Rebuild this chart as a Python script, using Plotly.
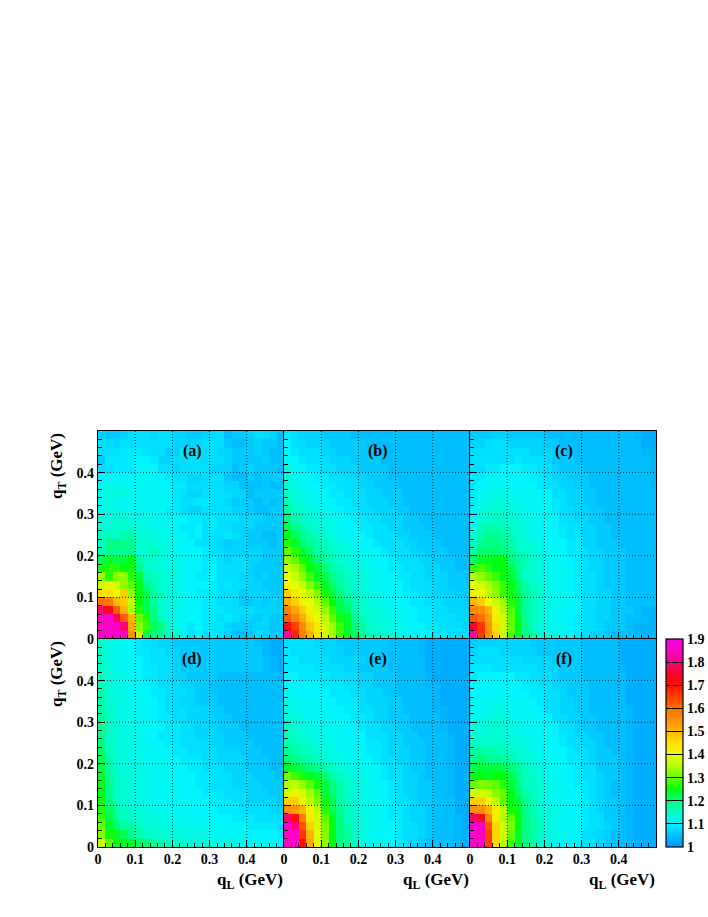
import plotly.graph_objects as go

# Values are (ratio - 1) x 100, rows listed from the top of the panel (q_T high) to the bottom.
panel_a = [
[7,6,6,7,8,8,8,7,8,8,7,7,6,6,7,8,8,5,6,6,7,8,8,7,5],
[8,8,7,8,8,8,8,8,8,8,7,7,7,7,8,8,8,6,5,5,6,7,6,6,5],
[8,8,8,9,9,9,8,8,8,6,7,8,8,8,8,8,7,7,6,6,6,7,6,5,5],
[6,9,9,9,9,10,10,9,7,7,8,8,8,8,8,8,8,7,6,6,6,6,7,5,5],
[8,8,9,9,9,10,11,10,8,8,7,8,8,8,8,7,7,7,5,6,7,6,6,6,5],
[10,10,10,10,10,11,11,10,10,9,8,8,7,7,8,8,8,6,5,5,6,5,6,6,6],
[11,12,12,12,11,11,11,11,11,10,9,9,8,8,8,8,8,7,7,5,5,5,6,5,5],
[12,13,13,13,12,11,11,11,10,10,9,8,7,7,8,8,8,8,7,7,5,6,6,6,6],
[11,12,12,11,11,11,11,11,11,10,9,8,8,9,9,8,8,7,6,6,6,5,6,5,6],
[12,13,12,12,11,11,11,11,10,9,9,8,7,7,8,8,8,8,7,7,6,5,5,6,6],
[13,14,14,14,13,12,12,12,11,11,10,10,9,9,8,9,8,8,8,7,7,7,6,6,6],
[14,14,15,14,15,13,13,12,11,10,10,9,9,10,8,9,8,8,7,7,7,6,6,6,6],
[15,16,15,17,17,14,13,13,12,12,11,10,9,10,8,8,8,9,8,7,6,6,5,5,6],
[15,20,20,19,19,15,15,14,13,12,11,10,10,8,8,8,7,6,7,7,6,6,6,5,6],
[17,19,19,19,19,14,14,16,13,13,11,11,10,10,9,8,8,7,7,7,7,7,6,6,6],
[22,24,22,23,25,17,15,14,13,12,12,11,10,10,9,9,8,7,8,8,7,7,6,6,6],
[26,27,27,25,26,19,15,14,13,12,13,11,10,10,9,10,8,8,8,8,7,6,6,6,6],
[33,27,33,33,27,23,16,16,15,13,13,11,10,9,9,10,8,8,8,7,7,6,7,6,6],
[37,42,38,33,30,25,20,17,14,13,12,11,10,10,10,9,8,9,8,8,7,7,6,6,6],
[45,45,40,47,33,25,22,18,16,13,13,11,10,9,9,9,8,8,8,6,7,7,7,6,6],
[60,58,50,47,37,25,22,18,14,13,13,11,10,10,9,9,8,8,8,6,6,7,6,7,6],
[78,72,62,50,35,27,22,20,14,12,12,11,11,10,9,9,9,8,8,8,8,7,7,7,7],
[85,85,78,62,50,30,27,20,16,13,12,11,10,10,9,9,8,9,8,7,7,6,7,6,6],
[85,85,85,80,52,32,28,22,20,15,13,11,9,10,9,8,9,7,6,6,6,7,7,6,6],
[85,85,85,85,55,37,22,20,18,15,15,10,8,10,8,9,8,7,5,5,6,8,7,6,6],
]
panel_b = [
[9,8,7,7,7,6,6,6,6,5,5,5,5,5,5,5,5,5,5,5,5,5,5,5,5],
[10,8,8,7,7,7,6,6,6,6,6,5,5,5,5,5,5,5,5,5,5,5,5,5,5],
[11,9,8,8,8,7,7,6,6,6,6,6,5,5,5,5,5,5,5,5,5,5,5,5,5],
[11,10,9,8,8,8,7,7,7,6,6,6,6,5,5,5,5,5,5,5,5,5,5,5,5],
[12,11,10,9,9,8,8,7,7,7,6,6,6,6,5,5,5,5,5,5,5,5,5,5,5],
[13,11,11,10,9,9,8,8,8,7,7,6,6,6,5,5,5,5,5,5,5,5,5,5,5],
[14,12,11,11,10,9,9,8,8,8,7,7,6,6,6,5,5,5,5,5,5,5,5,5,5],
[15,13,12,11,11,10,9,9,8,8,8,7,7,6,6,6,5,5,5,5,5,5,5,5,5],
[16,14,13,12,11,11,10,9,9,8,8,7,7,7,6,6,5,5,5,5,5,5,5,5,5],
[18,15,14,13,12,11,11,10,9,9,8,8,7,7,7,6,6,5,5,5,5,5,5,5,5],
[20,17,15,14,13,12,11,11,10,9,9,8,8,7,7,7,6,6,5,5,5,5,5,5,5],
[23,19,17,15,14,13,12,11,10,10,9,9,8,8,7,7,6,6,6,5,5,5,5,5,5],
[25,22,19,17,15,14,13,12,11,10,10,9,8,8,8,7,7,6,6,6,5,5,5,5,5],
[27,24,21,19,17,15,14,13,12,11,10,10,9,8,8,8,7,7,6,6,6,5,5,5,5],
[30,27,24,21,18,16,15,14,13,12,11,10,10,9,8,8,8,7,7,6,6,6,5,5,5],
[33,30,26,24,20,18,16,14,13,12,12,11,10,10,9,8,8,8,7,7,6,6,6,5,5],
[37,34,30,25,23,20,17,16,14,13,12,11,11,10,9,9,8,8,8,7,7,6,6,5,5],
[40,37,33,28,24,22,19,17,15,14,13,12,11,10,10,9,9,8,8,7,7,7,6,6,5],
[42,40,37,32,28,24,21,18,16,14,13,12,11,11,10,10,9,8,8,8,7,7,6,6,6],
[47,43,40,36,32,26,23,20,17,15,14,13,12,11,10,10,9,9,8,8,7,7,7,6,6],
[50,47,42,40,35,30,25,22,19,16,15,13,12,11,11,10,10,9,9,8,8,7,7,7,6],
[57,52,47,42,38,33,28,23,21,17,15,14,13,12,11,11,10,10,9,9,8,8,7,7,7],
[62,57,51,44,40,36,30,26,24,18,16,14,13,12,12,11,11,10,9,9,8,8,8,7,7],
[72,65,56,48,43,38,34,28,24,20,18,15,14,13,12,12,11,10,10,9,9,8,8,8,7],
[83,68,57,50,44,38,34,29,24,22,18,16,15,14,13,12,11,11,10,10,9,9,8,8,8],
]
panel_c = [
[6,6,6,7,7,6,6,6,6,6,5,5,5,5,5,5,5,5,5,5,5,5,4,3,3],
[7,7,8,8,8,7,7,7,7,7,6,6,5,5,5,5,5,5,5,5,5,5,5,3,3],
[8,8,8,8,8,8,8,8,7,7,7,6,6,5,5,5,5,5,5,5,5,5,5,4,4],
[8,8,8,8,8,8,9,8,8,8,7,6,6,6,5,5,5,5,5,5,5,5,5,5,4],
[8,8,9,9,10,10,10,9,9,8,8,7,6,6,6,5,5,5,5,5,5,5,5,5,4],
[9,9,10,10,10,10,10,10,9,9,8,7,7,6,6,6,5,5,5,5,5,5,5,5,4],
[9,10,11,11,11,11,11,10,10,9,8,8,7,7,6,6,5,5,5,5,5,5,5,5,4],
[9,11,12,12,12,11,11,11,11,10,10,8,8,7,7,6,6,5,5,5,5,5,5,5,5],
[9,12,13,13,13,12,12,11,11,11,10,9,8,7,7,6,6,5,5,5,5,5,5,5,5],
[10,13,14,14,14,13,12,12,11,11,11,9,8,8,7,7,6,6,5,5,5,5,5,5,5],
[11,14,15,15,15,14,13,12,11,11,11,10,8,8,7,7,6,6,5,5,5,5,5,5,5],
[12,16,17,17,16,15,14,13,12,11,10,10,9,8,8,7,7,6,6,5,5,5,5,5,5],
[13,17,19,19,18,16,14,13,12,11,10,10,9,8,9,7,7,6,6,5,5,5,5,5,5],
[15,19,20,20,19,17,15,14,13,12,11,10,10,9,9,7,7,6,6,6,5,5,5,5,5],
[17,21,21,21,20,18,16,15,14,12,11,10,10,9,9,8,7,7,6,6,6,5,5,5,5],
[21,24,24,25,25,20,18,16,14,13,11,11,10,10,9,8,7,7,6,6,6,5,5,5,5],
[27,29,27,25,25,22,18,16,15,13,12,11,11,10,9,8,7,7,6,6,6,5,5,5,5],
[35,33,30,28,25,23,20,15,14,13,12,11,11,11,9,8,8,7,6,6,6,5,5,5,5],
[40,38,35,32,28,25,21,18,15,14,12,11,11,11,9,8,8,7,6,6,6,5,5,5,5],
[42,40,37,33,28,26,22,18,16,14,12,11,11,11,9,8,8,7,7,6,6,5,5,5,5],
[50,47,40,37,33,27,23,18,16,14,12,11,11,11,10,8,8,7,7,6,6,5,5,5,5],
[56,55,50,42,35,29,23,18,16,14,12,11,11,10,10,8,8,7,7,6,6,6,5,4,4],
[62,60,53,43,38,30,24,19,16,14,12,11,10,10,9,8,8,7,7,6,6,5,5,4,4],
[75,66,55,45,38,30,25,20,15,13,12,11,11,10,9,8,8,7,6,6,6,5,4,4,4],
[83,66,55,46,37,29,23,19,17,14,13,12,11,10,9,8,7,7,6,5,5,5,4,4,4],
]
panel_d = [
[15,12,12,11,10,9,8,8,7,7,6,6,6,6,6,6,6,6,6,6,6,5,4,3,3],
[15,13,12,11,10,9,9,8,8,7,7,6,6,6,6,6,6,6,6,6,6,6,4,3,3],
[15,13,12,11,11,10,9,8,8,8,7,6,6,6,6,6,6,6,6,6,6,6,5,4,3],
[16,13,12,11,11,10,9,9,8,8,7,6,6,6,6,6,6,6,6,6,6,6,5,4,3],
[16,13,12,12,11,10,9,9,8,8,7,7,6,6,6,6,5,5,5,5,5,5,5,5,4],
[16,14,12,12,11,10,10,9,8,8,8,7,7,6,6,5,5,5,5,5,5,5,5,5,5],
[17,14,13,12,11,11,10,9,9,8,8,8,7,6,6,6,5,5,5,5,5,5,5,5,5],
[17,14,13,12,11,11,10,10,9,8,8,7,7,6,6,6,5,5,5,5,5,5,5,5,5],
[17,15,13,12,12,11,10,10,9,8,8,8,7,7,7,6,6,5,5,5,5,5,5,5,5],
[18,15,13,12,12,11,11,10,9,9,8,8,7,7,7,7,6,6,5,5,5,5,5,5,5],
[19,15,13,12,12,11,11,10,10,9,9,8,8,7,7,7,6,6,6,5,5,5,5,5,5],
[19,15,13,13,12,11,11,10,9,9,9,8,8,7,7,7,7,6,6,6,5,5,5,5,5],
[20,16,14,13,12,11,11,11,10,9,9,8,8,8,8,7,7,6,6,6,6,5,5,5,5],
[21,16,14,13,12,12,11,11,11,10,9,9,8,8,8,8,7,7,7,6,6,6,5,5,5],
[22,17,14,13,12,12,11,11,11,10,10,9,9,9,8,8,7,7,7,7,6,6,6,5,5],
[23,17,15,13,13,12,11,11,11,11,10,10,9,9,8,8,8,7,7,7,6,6,6,5,5],
[24,18,15,14,13,12,12,11,11,11,10,10,10,9,9,8,8,8,7,7,7,6,6,6,5],
[25,19,15,14,13,12,12,11,11,11,11,10,10,9,9,8,8,8,7,7,7,7,6,6,6],
[25,19,15,14,13,12,12,11,11,11,11,10,10,10,9,9,9,8,8,8,7,7,7,6,6],
[26,20,16,14,13,13,12,12,11,11,11,11,10,10,10,9,9,9,8,8,7,7,7,7,6],
[27,21,17,15,14,13,13,12,12,11,11,11,11,10,10,10,9,9,9,8,8,8,8,7,7],
[28,23,18,16,15,14,13,13,12,12,12,11,11,11,11,10,10,10,9,9,9,8,8,8,8],
[30,24,21,18,17,15,14,14,13,13,12,12,12,11,11,11,11,10,10,10,9,9,9,9,8],
[32,26,24,22,19,17,15,15,14,13,13,13,12,12,12,11,11,11,11,11,10,10,10,10,9],
[37,30,25,25,24,22,20,18,17,16,15,14,14,13,13,13,12,12,12,12,11,11,11,11,10],
]
panel_e = [
[8,8,8,8,7,7,7,6,6,6,6,6,6,6,5,5,5,5,4,3,3,3,3,3,3],
[9,8,8,8,8,7,7,7,6,6,6,6,6,6,5,5,5,5,4,3,3,3,3,3,3],
[9,9,8,8,8,8,7,7,7,7,7,6,6,6,5,5,5,5,5,3,3,3,3,3,3],
[9,9,9,9,8,8,8,8,7,7,6,6,6,6,5,5,5,5,5,3,3,3,3,3,3],
[10,10,9,9,9,9,8,8,8,8,7,7,6,6,6,5,5,5,5,4,3,3,3,3,3],
[10,10,10,10,10,9,9,9,8,8,7,7,6,6,6,5,5,5,5,4,4,3,3,3,3],
[11,11,10,10,10,10,9,9,9,8,8,7,7,6,6,5,5,5,5,5,4,3,3,3,3],
[12,11,11,11,10,10,10,9,9,9,8,7,7,7,6,6,5,5,5,5,4,3,3,3,3],
[13,12,11,11,11,11,10,10,9,9,8,8,7,7,6,6,5,5,5,5,4,4,3,3,3],
[14,13,12,11,11,11,11,10,10,9,9,8,7,7,6,6,6,5,5,5,5,4,3,3,3],
[15,14,13,12,12,11,11,11,10,10,9,8,8,7,7,6,6,5,5,5,5,4,3,3,3],
[16,15,14,13,12,12,11,11,11,10,10,8,8,8,7,7,6,6,5,5,5,5,4,3,3],
[17,16,15,14,13,12,12,11,11,11,10,9,9,8,7,7,6,6,6,5,5,5,4,3,3],
[19,18,16,16,14,13,12,12,11,11,11,9,9,8,7,7,7,6,6,5,5,5,4,3,3],
[21,20,18,17,16,14,13,12,12,11,11,10,9,8,8,7,7,6,6,5,5,5,4,3,3],
[24,23,22,20,18,17,15,14,12,12,11,11,10,9,8,8,7,6,6,5,5,5,4,3,3],
[31,28,26,24,23,20,17,16,14,13,12,11,10,9,8,8,7,7,6,5,5,5,4,3,3],
[35,36,33,30,26,23,20,17,15,13,12,11,11,10,9,8,7,7,6,6,5,5,4,3,3],
[38,42,38,34,30,23,21,17,15,14,12,11,11,10,9,8,7,7,6,6,5,5,4,3,3],
[47,47,42,36,32,26,22,18,16,14,12,12,11,10,9,8,8,7,6,6,5,5,5,3,3],
[55,53,50,42,36,27,22,19,16,14,13,12,11,10,9,9,8,7,7,6,5,5,5,3,3],
[79,70,57,43,38,30,25,20,16,14,13,12,11,10,9,9,8,7,7,6,5,5,5,4,3],
[85,80,63,47,38,32,25,20,17,15,13,12,11,11,10,9,8,8,7,6,5,5,5,4,3],
[85,85,66,50,39,32,25,20,18,15,13,12,11,11,10,9,8,8,7,6,5,5,5,4,3],
[85,85,70,52,40,33,25,20,18,15,13,12,11,11,10,9,8,7,6,5,5,5,5,4,3],
]
panel_f = [
[6,7,7,7,7,7,7,7,6,6,6,6,6,6,6,5,5,5,5,5,3,3,3,3,3],
[7,8,8,8,7,7,7,7,7,6,6,6,6,6,6,5,5,5,5,5,3,3,3,3,3],
[8,8,8,8,8,8,8,7,7,7,7,6,6,6,6,5,5,5,5,5,3,3,3,3,3],
[9,9,9,8,8,8,8,8,8,7,7,7,6,6,6,5,5,5,5,5,4,3,3,3,3],
[9,10,10,10,10,10,9,9,8,8,8,7,6,6,6,5,5,5,5,5,5,3,3,3,3],
[10,10,10,10,10,10,10,9,9,8,8,7,7,6,6,6,5,5,5,5,5,3,3,3,3],
[10,10,11,11,11,10,10,10,9,9,8,8,7,6,6,6,5,5,5,5,5,3,3,3,3],
[11,11,11,11,11,11,11,10,10,9,8,8,7,7,6,6,5,5,5,5,5,3,3,3,3],
[11,11,12,12,12,11,11,11,10,10,8,8,7,7,6,6,5,5,5,5,5,4,3,3,3],
[12,12,13,13,13,12,11,11,11,10,10,8,8,7,7,6,6,5,5,5,5,4,3,3,3],
[13,13,14,14,13,13,12,11,11,11,10,10,8,8,7,6,6,5,5,5,5,4,3,3,3],
[14,14,14,14,14,13,12,12,11,11,10,10,9,8,7,7,6,6,5,5,5,4,3,3,3],
[15,15,15,15,15,14,13,12,12,11,11,10,9,8,8,7,7,6,5,5,5,4,3,3,3],
[18,18,17,17,16,15,14,13,12,11,11,10,10,9,8,8,7,6,6,5,5,4,3,3,3],
[19,21,19,19,18,17,15,14,13,11,11,10,10,9,9,8,7,6,6,6,5,4,3,3,3],
[22,23,23,23,22,20,18,16,14,12,11,11,10,10,9,8,8,6,6,6,5,4,3,3,3],
[25,25,24,25,25,22,19,16,15,13,12,11,11,10,9,8,8,7,6,6,5,4,3,3,3],
[30,32,31,30,27,23,20,16,15,14,12,11,11,10,9,9,8,7,6,5,5,4,3,3,3],
[38,38,37,32,30,25,21,18,15,14,12,11,11,10,10,9,8,7,6,5,5,4,3,3,3],
[47,47,41,36,30,25,23,19,16,14,12,11,11,10,10,9,8,7,6,6,5,4,3,3,3],
[55,55,50,43,36,26,24,19,16,14,13,12,11,11,10,9,8,7,6,6,5,4,3,3,3],
[78,73,56,43,35,30,25,20,17,14,13,12,11,11,10,9,8,8,6,6,5,4,3,3,3],
[85,85,63,46,38,32,25,20,18,15,13,12,11,11,10,9,8,8,7,6,5,4,3,3,3],
[85,85,65,46,38,30,24,20,17,15,13,12,11,10,10,8,8,7,6,5,5,4,3,3,3],
[85,85,65,46,36,28,24,20,17,15,13,12,11,10,10,8,8,7,6,5,5,4,3,3,3],
]
panels = [panel_a, panel_b, panel_c, panel_d, panel_e, panel_f]
panel_labels = ["(a)", "(b)", "(c)", "(d)", "(e)", "(f)"]
bin_centers = [0.01 + 0.02 * i for i in range(25)]
major_ticks = [0, 0.1, 0.2, 0.3, 0.4]
major_labels = ["0", "0.1", "0.2", "0.3", "0.4"]
cbar_ticks = [1, 1.1, 1.2, 1.3, 1.4, 1.5, 1.6, 1.7, 1.8, 1.9]
cbar_labels = ["1", "1.1", "1.2", "1.3", "1.4", "1.5", "1.6", "1.7", "1.8", "1.9"]

W, H = 708, 917
X0, PW = 98, 186
Y0, PH = 431, 208
FONT = "Liberation Serif"

def fx(p): return p / W
def fy(p): return 1 - p / H

palette = [(1.0, "#0095ff"), (1.05, "#00bfff"), (1.1, "#00f5ff"), (1.15, "#00ffc8"),
           (1.2, "#00ff80"), (1.25, "#00ff10"), (1.3, "#60ff00"), (1.35, "#b0ff00"),
           (1.4, "#e8ff00"), (1.45, "#ffe000"), (1.5, "#ffb400"), (1.55, "#ff9000"),
           (1.6, "#ff7000"), (1.65, "#ff4000"), (1.7, "#ff1000"), (1.75, "#ff0030"),
           (1.8, "#ff0080"), (1.85, "#ff00c8"), (1.9, "#ff00e0")]
colorscale = [[min(1.0, round((v - 1) / 0.9, 5)), c] for v, c in palette]

fig = go.Figure()
shapes, annotations = [], []
tickfont = dict(family=FONT, size=14, color="black", weight="bold")
titlefont = dict(family=FONT, size=17, color="black", weight="bold")

for i, panel in enumerate(panels):
    col, row = i % 3, i // 3
    ax = "" if i == 0 else str(i + 1)
    z = [[1 + v / 100 for v in r] for r in reversed(panel)]
    fig.add_trace(go.Heatmap(x=bin_centers, y=bin_centers, z=z, coloraxis="coloraxis",
                             xaxis="x" + ax, yaxis="y" + ax, hoverinfo="skip"))
    left, top = X0 + col * PW, Y0 + row * PH
    common = dict(range=[0, 0.5], tickmode="array", tickvals=major_ticks, ticktext=major_labels,
                  ticks="inside", ticklen=7, tickwidth=1, tickcolor="black", showgrid=False,
                  zeroline=False, showline=True, linecolor="black", linewidth=1.3, mirror=True,
                  layer="above traces", tickfont=tickfont)
    minor = dict(tickmode="linear", tick0=0, dtick=0.02, ticks="inside", ticklen=4, tickwidth=1,
                 tickcolor="black", showgrid=False)
    fig.update_layout({
        "xaxis" + ax: dict(common, domain=[fx(left), fx(left + PW)], anchor="y" + ax,
                           showticklabels=(row == 1), minor=minor, ticklabelstandoff=-1),
        "yaxis" + ax: dict(common, domain=[fy(top + PH), fy(top)], anchor="x" + ax,
                           showticklabels=(col == 0), minor=minor),
    })
    xr, yr = "x" + ax, "y" + ax
    for t in major_ticks[1:]:
        line = dict(color="black", width=0.8, dash="1px,2px")
        shapes.append(dict(type="line", xref=xr, yref=yr, x0=t, x1=t, y0=0, y1=0.5, line=line, layer="above"))
        shapes.append(dict(type="line", xref=xr, yref=yr, x0=0, x1=0.5, y0=t, y1=t, line=line, layer="above"))
    annotations.append(dict(text=panel_labels[i], xref="paper", yref="paper",
                            x=fx(left + 94), y=fy(top + 20), showarrow=False,
                            xanchor="center", yanchor="middle",
                            font=dict(family=FONT, size=16, color="black", weight="bold")))
    if row == 1:
        annotations.append(dict(text="q<sub>L</sub> (GeV)", xref="paper", yref="paper",
                                x=fx(left + PW + 1), y=fy(881), showarrow=False,
                                xanchor="right", yanchor="middle", font=titlefont))
    if col == 0:
        annotations.append(dict(text="q<sub>T</sub> (GeV)", xref="paper", yref="paper",
                                x=fx(58), y=fy(top), showarrow=False, textangle=-90,
                                xanchor="center", yanchor="top", font=titlefont))

fig.update_layout(
    width=W, height=H, autosize=False, margin=dict(l=0, r=0, t=0, b=0, autoexpand=False),
    paper_bgcolor="white", plot_bgcolor="white", showlegend=False,
    shapes=shapes, annotations=annotations,
    coloraxis=dict(cmin=1, cmax=1.9, colorscale=colorscale,
        colorbar=dict(x=fx(666), xanchor="left", xpad=0, ypad=0, y=fy(639), yanchor="top",
                      lenmode="fraction", len=208 / H, thicknessmode="pixels", thickness=17,
                      outlinecolor="black", outlinewidth=1.2,
                      tickmode="array", tickvals=cbar_ticks, ticktext=cbar_labels,
                      ticks="inside", ticklen=17, tickwidth=1, tickcolor="black",
                      tickfont=tickfont)),
)
fig.write_html("out.html", config={"displayModeBar": False},
               post_script="document.body.style.margin='0';")
